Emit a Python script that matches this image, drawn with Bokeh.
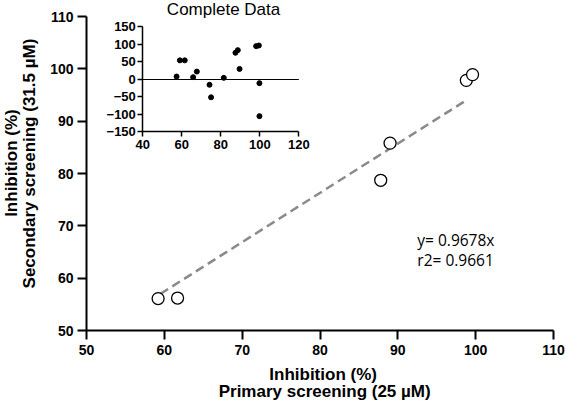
from bokeh.plotting import figure
from bokeh.models import Range1d, LinearAxis, Label, FixedTicker
from bokeh.embed import file_html
from bokeh.resources import INLINE

# ---- main data: primary vs secondary screening (inhibition %) ----
primary = [59.2, 61.7, 87.8, 89.0, 98.8, 99.6]
secondary = [56.1, 56.2, 78.7, 85.8, 97.8, 98.9]
fit_x = [59.5, 98.9]
fit_y = [57.0, 94.1]
eq_text = "y= 0.9678x"
r2_text = "r2= 0.9661"
main_ticks = [50, 60, 70, 80, 90, 100, 110]

# ---- inset data: complete data ----
inset_x = [57.3, 59.0, 61.5, 65.8, 67.7, 74.2, 75.0, 81.5, 87.5, 88.7, 89.6, 98.1, 99.5, 99.8, 99.8]
inset_y = [8.5, 54.7, 54.7, 6.6, 22.6, -15.1, -50.9, 4.7, 76.4, 83.9, 30.2, 95.3, 97.1, -10.4, -104.7]
inset_xticks = [40, 60, 80, 100, 120]
inset_yticks = [-150, -100, -50, 0, 50, 100, 150]
inset_title = "Complete Data"

FONT = "Liberation Sans"

# frame covers the whole canvas; axes are pinned with fixed_location
p = figure(width=566, height=404, x_range=Range1d(38.95, 111.67), y_range=Range1d(35.86, 113.06),
           output_backend="svg", toolbar_location=None, title=None,
           min_border_left=0, min_border_right=0, min_border_top=0, min_border_bottom=0)
p.xgrid.visible = False
p.ygrid.visible = False
p.outline_line_color = None
p.background_fill_color = "white"
p.border_fill_color = "white"
p.xaxis.visible = False
p.yaxis.visible = False

max_x = LinearAxis(fixed_location=main_ticks[0], bounds=(main_ticks[0], main_ticks[-1]),
                   ticker=FixedTicker(ticks=main_ticks))
max_y = LinearAxis(fixed_location=main_ticks[0], bounds=(main_ticks[0], main_ticks[-1]),
                   ticker=FixedTicker(ticks=main_ticks))
for ax in (max_x, max_y):
    ax.axis_line_width = 2
    ax.axis_line_color = "black"
    ax.major_tick_line_width = 2
    ax.major_tick_line_color = "black"
    ax.major_tick_out = 9
    ax.major_tick_in = 0
    ax.minor_tick_out = 0
    ax.minor_tick_in = 0
    ax.major_label_text_font = FONT
    ax.major_label_text_font_style = "bold"
    ax.major_label_text_font_size = "14px"
    ax.major_label_text_color = "black"
max_y.major_label_standoff = 4
max_x.major_label_standoff = 5
p.add_layout(max_y, "left")
p.add_layout(max_x, "below")

# inset ranges mapped inside the canvas
p.extra_x_ranges = {"ix": Range1d(-32.99, 257.27)}
p.extra_y_ranges = {"iy": Range1d(-928.6, 225.7)}

iax_y = LinearAxis(x_range_name="ix", y_range_name="iy", fixed_location=inset_xticks[0],
                   bounds=(inset_yticks[0], inset_yticks[-1]), ticker=FixedTicker(ticks=inset_yticks))
iax_x = LinearAxis(x_range_name="ix", y_range_name="iy", fixed_location=inset_yticks[0],
                   bounds=(inset_xticks[0], inset_xticks[-1]), ticker=FixedTicker(ticks=inset_xticks))
for ax in (iax_y, iax_x):
    ax.axis_line_width = 1.5
    ax.major_tick_line_width = 1.5
    ax.major_tick_out = 5
    ax.major_tick_in = 0
    ax.minor_tick_out = 0
    ax.minor_tick_in = 0
    ax.major_label_text_font = FONT
    ax.major_label_text_font_style = "bold"
    ax.major_label_text_font_size = "13px"
    ax.major_label_text_color = "black"
iax_y.major_label_standoff = 2
iax_x.major_label_standoff = 3
p.add_layout(iax_y, "left")
p.add_layout(iax_x, "below")

# inset zero line and points
p.line(x=[inset_xticks[0], inset_xticks[-1]], y=[0, 0], x_range_name="ix", y_range_name="iy",
       line_color="black", line_width=1.2)
p.scatter(x=inset_x, y=inset_y, x_range_name="ix", y_range_name="iy", size=5,
          fill_color="black", line_color="black")
p.add_layout(Label(x=81.4, y=198.6, x_range_name="ix", y_range_name="iy", text=inset_title,
                   text_align="center", text_baseline="middle", text_font=FONT,
                   text_font_size="17px", text_color="black"))

# main fit line and points
p.line(x=fit_x, y=fit_y, line_color="#8a8a8a", line_width=2.5, line_dash="9 5")
p.scatter(x=primary, y=secondary, size=12, fill_color="white", line_color="black", line_width=1.3)

p.add_layout(Label(x=92.5, y=67.2, text=eq_text, text_align="left", text_baseline="middle",
                   text_font="Open Sans", text_font_size="15.5px", text_color="black"))
p.add_layout(Label(x=92.5, y=63.4, text=r2_text, text_align="left", text_baseline="middle",
                   text_font="Open Sans", text_font_size="15.5px", text_color="black"))

# axis titles (two lines each)
p.add_layout(Label(x=80.4, y=41.6, text="Inhibition (%)", text_align="center", text_baseline="middle",
                   text_font=FONT, text_font_style="bold", text_font_size="17px", text_color="black"))
p.add_layout(Label(x=80.6, y=38.4, text="Primary screening (25 µM)", text_align="center",
                   text_baseline="middle", text_font=FONT, text_font_style="bold",
                   text_font_size="17px", text_color="black"))
p.add_layout(Label(x=40.3, y=82.0, text="Inhibition (%)", angle=90, angle_units="deg",
                   text_align="center", text_baseline="middle", text_font=FONT,
                   text_font_style="bold", text_font_size="17px", text_color="black"))
p.add_layout(Label(x=42.7, y=81.9, text="Secondary screening (31.5 µM)", angle=90, angle_units="deg",
                   text_align="center", text_baseline="middle", text_font=FONT,
                   text_font_style="bold", text_font_size="17px", text_color="black"))

open("out.html", "w").write(file_html(p, INLINE))
